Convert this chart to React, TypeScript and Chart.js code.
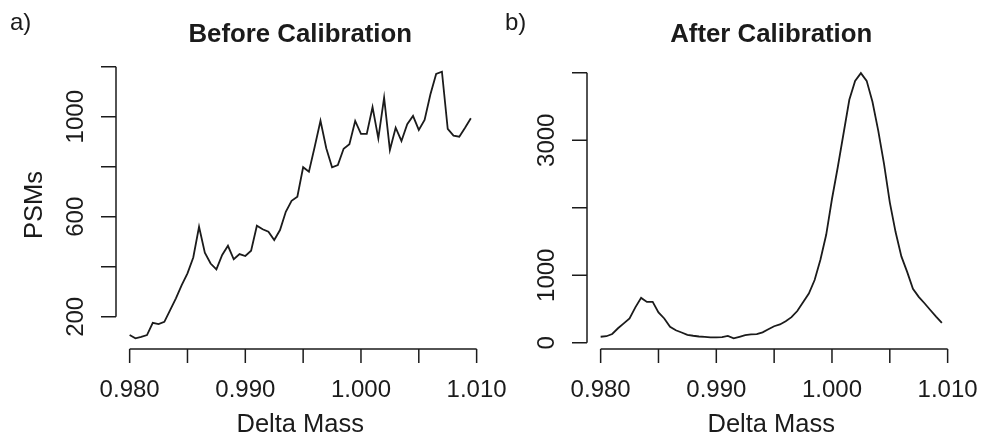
import React, { useEffect, useRef } from "react";
import { Chart, registerables } from "chart.js";

Chart.register(...registerables);

// Delta mass bins (x values shared by both panels)
const deltaMass = [
  0.98, 0.9805, 0.981, 0.9815, 0.982, 0.9825, 0.983, 0.9835, 0.984, 0.9845,
  0.985, 0.9855, 0.986, 0.9865, 0.987, 0.9875, 0.988, 0.9885, 0.989, 0.9895,
  0.99, 0.9905, 0.991, 0.9915, 0.992, 0.9925, 0.993, 0.9935, 0.994, 0.9945,
  0.995, 0.9955, 0.996, 0.9965, 0.997, 0.9975, 0.998, 0.9985, 0.999, 0.9995,
  1.0, 1.0005, 1.001, 1.0015, 1.002, 1.0025, 1.003, 1.0035, 1.004, 1.0045,
  1.005, 1.0055, 1.006, 1.0065, 1.007, 1.0075, 1.008, 1.0085, 1.009, 1.0095,
];

// PSM counts before calibration
const psmsBefore = [
  127, 114, 120, 127, 176, 171, 180, 227, 274, 327,
  374, 437, 560, 456, 413, 390, 447, 484, 430, 451,
  443, 464, 564, 550, 540, 507, 547, 620, 664, 680,
  798, 780, 880, 984, 874, 798, 807, 872, 890, 983,
  931, 931, 1038, 913, 1076, 867, 956, 903, 970, 1003,
  947, 987, 1089, 1171, 1180, 951, 924, 920, 956, 994,
];

// PSM counts after calibration
const psmsAfter = [
  89, 97, 130, 215, 287, 360, 525, 665, 606, 606,
  450, 360, 236, 185, 152, 118, 104, 93, 86, 80,
  80, 85, 103, 65, 89, 114, 124, 128, 155, 200,
  245, 272, 320, 380, 470, 600, 730, 930, 1230, 1600,
  2130, 2600, 3100, 3600, 3880, 3995, 3880, 3570, 3143, 2650,
  2080, 1640, 1280, 1050, 800, 680, 586, 485, 388, 296,
];

// Axis ticks and their labels (empty label = tick drawn without text)
const xTicks = [0.98, 0.985, 0.99, 0.995, 1.0, 1.005, 1.01];
const xTickLabels = ["0.980", "", "0.990", "", "1.000", "", "1.010"];
const yTicksBefore = [200, 400, 600, 800, 1000, 1200];
const yTickLabelsBefore = ["200", "", "600", "", "1000", ""];
const yTicksAfter = [0, 1000, 2000, 3000, 4000];
const yTickLabelsAfter = ["0", "1000", "", "3000", ""];

const FONT = '"Liberation Sans", Arial, Helvetica, sans-serif';
const INK = "#1b1b1b";

// Base-graphics style range: data extent padded by 4% on each side
function paddedRange(values: number[]): [number, number] {
  const lo = Math.min(...values);
  const hi = Math.max(...values);
  const d = (hi - lo) * 0.04;
  return [lo - d, hi + d];
}

interface PanelSpec {
  letter: string;
  letterX: number;
  title: string;
  yTicks: number[];
  yLabels: string[];
  yTitle?: string;
}

function panelAxesPlugin(spec: PanelSpec) {
  return {
    id: "panelAxes",
    afterDraw(chart: any) {
      const { ctx, chartArea } = chart;
      const xs = chart.scales.x;
      const ys = chart.scales.y;
      const left = chartArea.left;
      const bottom = chartArea.bottom;
      const cx = (chartArea.left + chartArea.right) / 2;
      const cy = (chartArea.top + chartArea.bottom) / 2;

      ctx.save();
      ctx.strokeStyle = INK;
      ctx.fillStyle = INK;
      ctx.lineWidth = 1.5;

      // x axis: line spans first to last tick
      const x0 = xs.getPixelForValue(xTicks[0]);
      const x1 = xs.getPixelForValue(xTicks[xTicks.length - 1]);
      ctx.beginPath();
      ctx.moveTo(x0, bottom);
      ctx.lineTo(x1, bottom);
      xTicks.forEach((t) => {
        const px = xs.getPixelForValue(t);
        ctx.moveTo(px, bottom);
        ctx.lineTo(px, bottom + 14);
      });
      // y axis
      const y0 = ys.getPixelForValue(spec.yTicks[0]);
      const y1 = ys.getPixelForValue(spec.yTicks[spec.yTicks.length - 1]);
      ctx.moveTo(left, y0);
      ctx.lineTo(left, y1);
      spec.yTicks.forEach((t) => {
        const py = ys.getPixelForValue(t);
        ctx.moveTo(left, py);
        ctx.lineTo(left - 15, py);
      });
      ctx.stroke();

      // x tick labels
      ctx.font = `24px ${FONT}`;
      ctx.textAlign = "center";
      ctx.textBaseline = "alphabetic";
      xTicks.forEach((t, i) => {
        if (xTickLabels[i]) ctx.fillText(xTickLabels[i], xs.getPixelForValue(t), bottom + 48);
      });

      // y tick labels, rotated parallel to the axis
      spec.yTicks.forEach((t, i) => {
        if (!spec.yLabels[i]) return;
        ctx.save();
        ctx.translate(left - 33, ys.getPixelForValue(t));
        ctx.rotate(-Math.PI / 2);
        ctx.fillText(spec.yLabels[i], 0, 0);
        ctx.restore();
      });

      // axis titles
      ctx.font = `25.5px ${FONT}`;
      ctx.fillText("Delta Mass", cx, bottom + 83);
      if (spec.yTitle) {
        ctx.save();
        ctx.translate(left - 74, cy);
        ctx.rotate(-Math.PI / 2);
        ctx.fillText(spec.yTitle, 0, 0);
        ctx.restore();
      }

      // panel letter
      ctx.textAlign = "left";
      ctx.font = `24px ${FONT}`;
      ctx.fillText(spec.letter, spec.letterX, 30);

      // main title
      ctx.textAlign = "center";
      ctx.font = `bold 25.8px ${FONT}`;
      ctx.fillText(spec.title, cx, 42);

      ctx.restore();
    },
  };
}

function makeConfig(
  values: number[],
  spec: PanelSpec,
  padding: { left: number; right: number; top: number; bottom: number }
): any {
  const [xMin, xMax] = paddedRange(deltaMass);
  const [yMin, yMax] = paddedRange(values);
  return {
    type: "line",
    data: {
      datasets: [
        {
          data: deltaMass.map((m, i) => ({ x: m, y: values[i] })),
          borderColor: INK,
          borderWidth: 1.8,
          pointRadius: 0,
          tension: 0,
          fill: false,
        },
      ],
    },
    options: {
      responsive: false,
      animation: false,
      devicePixelRatio: 1,
      layout: { padding },
      plugins: { legend: { display: false }, tooltip: { enabled: false } },
      scales: {
        x: { type: "linear", min: xMin, max: xMax, display: false },
        y: { type: "linear", min: yMin, max: yMax, display: false },
      },
    },
    plugins: [panelAxesPlugin(spec)],
  };
}

export default function App() {
  const leftRef = useRef<HTMLCanvasElement>(null);
  const rightRef = useRef<HTMLCanvasElement>(null);

  useEffect(() => {
    const before = new Chart(
      leftRef.current as HTMLCanvasElement,
      makeConfig(
        psmsBefore,
        {
          letter: "a)",
          letterX: 10,
          title: "Before Calibration",
          yTicks: yTicksBefore,
          yLabels: yTickLabelsBefore,
          yTitle: "PSMs",
        },
        { left: 116, right: 497.5, top: 61, bottom: 87 }
      )
    );
    const after = new Chart(
      rightRef.current as HTMLCanvasElement,
      makeConfig(
        psmsAfter,
        {
          letter: "b)",
          letterX: 505,
          title: "After Calibration",
          yTicks: yTicksAfter,
          yLabels: yTickLabelsAfter,
        },
        { left: 587, right: 26.5, top: 62.5, bottom: 87 }
      )
    );
    return () => {
      before.destroy();
      after.destroy();
    };
  }, []);

  return (
    <div
      style={{
        position: "absolute",
        left: 0,
        top: 0,
        width: 982,
        height: 436,
        background: "#ffffff",
      }}
    >
      <canvas ref={leftRef} width={982} height={436} style={{ position: "absolute", left: 0, top: 0 }} />
      <canvas ref={rightRef} width={982} height={436} style={{ position: "absolute", left: 0, top: 0 }} />
    </div>
  );
}
